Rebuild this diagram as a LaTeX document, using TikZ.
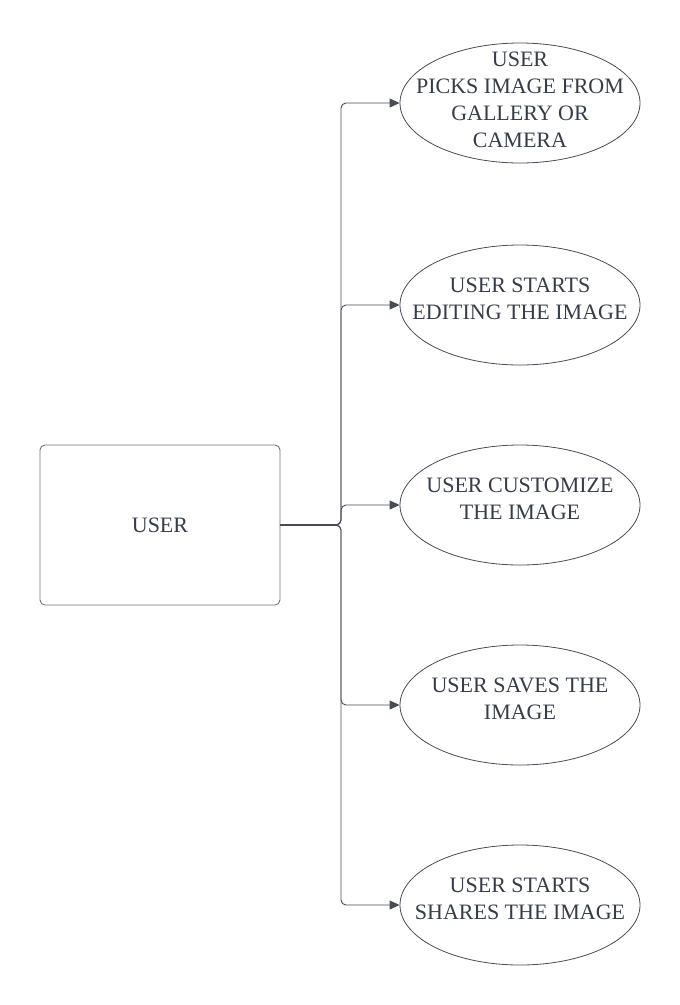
\documentclass[tikz,border=0pt]{standalone}
\usepackage{amsmath}
\usepackage{fontspec}
\setmainfont{Liberation Serif}
\usepackage{tikz}
\usetikzlibrary{arrows.meta,shapes.geometric}

\definecolor{inkgray}{HTML}{363D49}
\definecolor{rimgray}{HTML}{6E7179}
\definecolor{wiregray}{HTML}{474C55}

\begin{document}
\begin{tikzpicture}[line cap=round,line join=round,>={Triangle[length=10pt,width=9pt]},x=1pt,y=-1pt,
		actor/.style={draw=rimgray,line width=0.9pt,rounded corners=5pt,minimum width=240pt,minimum height=160pt,text=inkgray,font=\fontsize{22}{27}\selectfont},
		usecase/.style={ellipse,draw=wiregray,line width=0.8pt,minimum width=240pt,minimum height=120pt,inner xsep=-30pt,inner ysep=-14pt,text depth=12pt,align=center,text=inkgray,font=\fontsize{22}{27}\selectfont},
		wire/.style={draw=wiregray,line width=0.9pt,rounded corners=5pt,->}]
			\useasboundingbox (0,0) rectangle (680,1005);
			\node[actor] (user) at (160,525) {USER};
			\node[usecase,text depth=6pt] (pick) at (520,103) {USER\\PICKS IMAGE FROM\\GALLERY OR\\CAMERA};
			\node[usecase] (edit) at (520,305) {USER STARTS\\EDITING THE IMAGE};
			\node[usecase] (custom) at (520,505) {USER CUSTOMIZE\\THE IMAGE};
			\node[usecase] (save) at (520,705) {USER SAVES THE\\IMAGE};
			\node[usecase] (share) at (520,905) {USER STARTS\\SHARES THE IMAGE};
			\coordinate (hub) at (341,525);
			\coordinate (stem) at (336,525);
			\draw [wire] (user.east) -- (hub) |- (pick.west);
			\draw [wire] (user.east) -- (hub) |- (edit.west);
			\draw [wire] (user.east) -- (hub) |- (custom.west);
			\draw [wire] (user.east) -- (hub) |- (save.west);
			\draw [wire] (user.east) -- (hub) |- (share.west);
			\draw [color=wiregray,line width=1.3pt] (user.east) -- (stem);
\end{tikzpicture}
\end{document}
